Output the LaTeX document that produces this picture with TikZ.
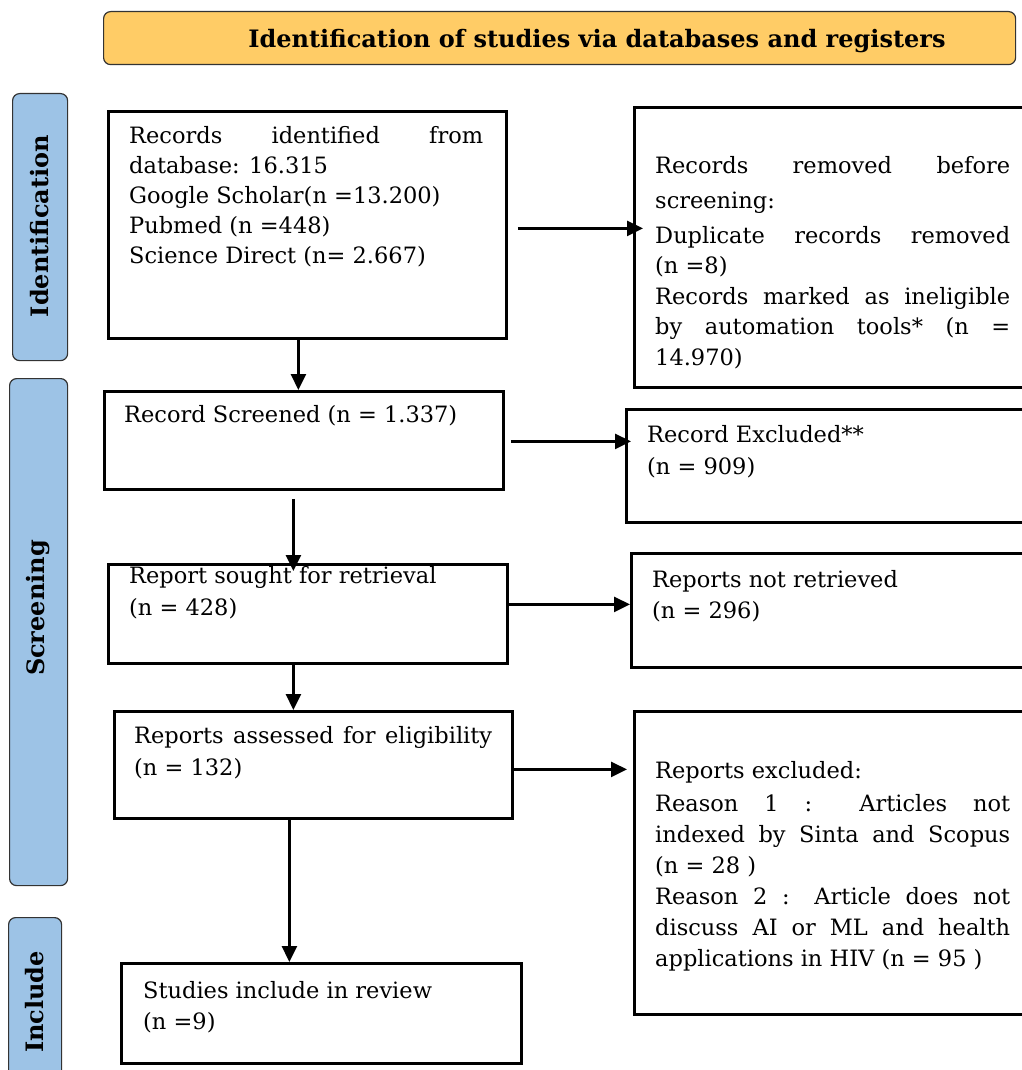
\documentclass[tikz,border=0pt]{standalone}
\usepackage{fontspec}
\setmainfont{DejaVu Serif}
\usetikzlibrary{arrows.meta}
\definecolor{hdr}{RGB}{255,204,102}
\definecolor{side}{RGB}{157,195,230}
\newcommand{\jl}[2]{\makebox[#1][s]{#2}}
\begin{document}
\begin{tikzpicture}[x=1pt,y=-1pt,
  box/.style={draw=black, line width=2.8pt, anchor=north west, inner sep=0pt},
  txt/.style={anchor=base west, align=left, inner sep=0pt, font=\fontsize{22.5}{30}\selectfont},
  arr/.style={-{Triangle[length=16pt,width=15pt]}, line width=2.6pt},
  bar/.style={draw=black!80, line width=1.2pt, fill=side, rounded corners=7pt, anchor=north west, inner sep=0pt},
  barlbl/.style={rotate=90, inner sep=0pt, font=\bfseries\fontsize{24}{28}\selectfont}
]
\useasboundingbox (0,0) rectangle (1021,1070);
\fill[white] (0,0) rectangle (1021,1070);

% header
\node[draw=black!80, line width=1.2pt, fill=hdr, rounded corners=7pt, anchor=north west,
      minimum width=912pt, minimum height=53pt, inner sep=0pt] (H) at (103,11) {};
\node[anchor=base, inner sep=0pt, font=\bfseries\fontsize{24}{28}\selectfont] (Ht) at (597,48)
  {Identification of studies via databases and registers};

% side bars
\node[bar, minimum width=55pt, minimum height=267pt] (S1) at (12,93) {};
\node[bar, minimum width=58pt, minimum height=507pt] (S2) at (9,378) {};
\node[bar, minimum width=53pt, minimum height=170pt] (S3) at (8,917) {};
\node[barlbl] (L1) at (40,226) {Identification};
\node[barlbl] (L2) at (38,608) {Screening};
\node[barlbl] (L3) at (35,1002) {Include};

% boxes
\node[box, minimum width=398pt, minimum height=227pt] (B1) at (107,110) {};
\node[box, minimum width=391pt, minimum height=280pt] (R1) at (633,106) {};
\node[box, minimum width=399pt, minimum height=98pt] (B2) at (103,390) {};
\node[box, minimum width=399pt, minimum height=113pt] (R2) at (625,408) {};
\node[box, minimum width=399pt, minimum height=99pt] (B3) at (107,563) {};
\node[box, minimum width=394pt, minimum height=114pt] (R3) at (630,552) {};
\node[box, minimum width=398pt, minimum height=107pt] (B4) at (113,710) {};
\node[box, minimum width=391pt, minimum height=303pt] (R4) at (633,710) {};
\node[box, minimum width=400pt, minimum height=100pt] (B5) at (120,962) {};

% texts (anchor = baseline of the last line)
\node[txt] (T1) at (129,263) {\jl{354pt}{Records identified from}\\ database: 16.315\\ Google Scholar(n =13.200)\\ Pubmed (n =448)\\ Science Direct (n= 2.667)};
\node[txt, font=\fontsize{22.5}{30.5}\selectfont] (TR1) at (655,365) {\jl{355pt}{Records removed before}\\[4.5pt] screening:\\[4.5pt] \jl{355pt}{Duplicate records removed}\\ (n =8)\\ \jl{355pt}{Records marked as ineligible}\\ \jl{355pt}{by automation tools* (n =}\\ 14.970)};
\node[txt] (T2) at (124,422) {Record Screened (n = 1.337)};
\node[txt, font=\fontsize{22.5}{32}\selectfont] (TR2) at (647,474) {Record Excluded**\\ (n = 909)};
\node[txt, font=\fontsize{22.5}{32}\selectfont] (T3) at (129,615) {Report sought for retrieval\\ (n = 428)};
\node[txt, font=\fontsize{22.5}{31}\selectfont] (TR3) at (652,618) {Reports not retrieved\\ (n = 296)};
\node[txt, font=\fontsize{22.5}{32}\selectfont] (T4) at (134,775) {\jl{358pt}{Reports assessed for eligibility}\\ (n = 132)};
\node[txt, font=\fontsize{22.5}{31}\selectfont] (TR4) at (655,966) {Reports excluded:\\[2pt] \jl{355pt}{Reason 1 : Articles not}\\ \jl{355pt}{indexed by Sinta and Scopus}\\ (n = 28 )\\ \jl{355pt}{Reason 2 : Article does not}\\ \jl{355pt}{discuss AI or ML and health}\\ applications in HIV (n = 95 )};
\node[txt, font=\fontsize{22.5}{31}\selectfont] (T5) at (143,1029) {Studies include in review\\ (n =9)};

% connectors
\draw[arr] ([xshift=-9]B1.south) -- ([xshift=-9]B1.south |- B2.north);
\draw[arr] ([xshift=10,yshift=-3.5]B1.east) -- ([xshift=10,yshift=-3.5]B1.east -| R1.west);
\draw[arr] ([xshift=-10.5,yshift=-8]B2.south) -- ([xshift=-10.5,yshift=-8]B2.south |- B3.north);
\draw[arr] ([xshift=6,yshift=-1]B2.east) -- ([xshift=6,yshift=-1]B2.east -| R2.west);
\draw[arr] ([xshift=-14.5]B3.south) -- ([xshift=-14.5]B3.south |- B4.north);
\draw[arr] ([yshift=9.5]B3.east) -- ([yshift=9.5]B3.east -| R3.west);
\coordinate (r4in) at ([xshift=-6]R4.west);
\draw[arr] ([yshift=-4.5]B4.east) -- ([yshift=-4.5]B4.east -| r4in);
\draw[arr] ([xshift=-24]B4.south) -- ([xshift=-24]B4.south |- B5.north);
\end{tikzpicture}
\end{document}
